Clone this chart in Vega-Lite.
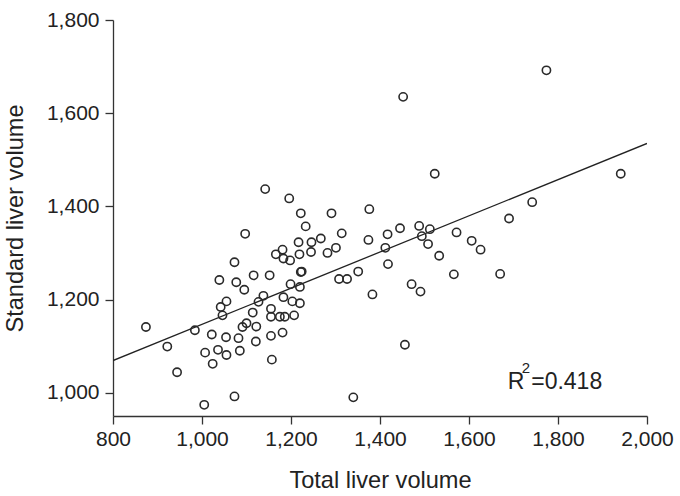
{
  "$schema": "https://vega.github.io/schema/vega-lite/v6.json",
  "autosize": {"type": "none"},
  "width": 534,
  "height": 396,
  "padding": {"left": 113, "top": 20, "right": 33, "bottom": 80},
  "background": "#ffffff",
  "datasets": {
    "livers": [
      {"tlv": 1142, "slv": 1437}, {"tlv": 1196, "slv": 1417}, {"tlv": 1222, "slv": 1385}, {"tlv": 1291, "slv": 1385},
      {"tlv": 1376, "slv": 1394}, {"tlv": 1452, "slv": 1635}, {"tlv": 1774, "slv": 1692}, {"tlv": 1523, "slv": 1470},
      {"tlv": 1941, "slv": 1470}, {"tlv": 1742, "slv": 1409}, {"tlv": 1690, "slv": 1374}, {"tlv": 1233, "slv": 1357},
      {"tlv": 1097, "slv": 1341}, {"tlv": 1314, "slv": 1342}, {"tlv": 1417, "slv": 1340}, {"tlv": 1217, "slv": 1323},
      {"tlv": 1246, "slv": 1323}, {"tlv": 1267, "slv": 1331}, {"tlv": 1374, "slv": 1328}, {"tlv": 1181, "slv": 1307},
      {"tlv": 1301, "slv": 1311}, {"tlv": 1412, "slv": 1311}, {"tlv": 1166, "slv": 1297}, {"tlv": 1219, "slv": 1297},
      {"tlv": 1245, "slv": 1302}, {"tlv": 1282, "slv": 1300}, {"tlv": 1183, "slv": 1288}, {"tlv": 1198, "slv": 1284},
      {"tlv": 1073, "slv": 1280}, {"tlv": 1418, "slv": 1276}, {"tlv": 1222, "slv": 1259}, {"tlv": 1224, "slv": 1260},
      {"tlv": 1351, "slv": 1260}, {"tlv": 1116, "slv": 1252}, {"tlv": 1152, "slv": 1252}, {"tlv": 1039, "slv": 1242},
      {"tlv": 1308, "slv": 1244}, {"tlv": 1326, "slv": 1244}, {"tlv": 1077, "slv": 1237}, {"tlv": 1199, "slv": 1233},
      {"tlv": 1220, "slv": 1227}, {"tlv": 1095, "slv": 1221}, {"tlv": 1383, "slv": 1211}, {"tlv": 1138, "slv": 1208},
      {"tlv": 1183, "slv": 1205}, {"tlv": 1055, "slv": 1196}, {"tlv": 1127, "slv": 1195}, {"tlv": 1203, "slv": 1196},
      {"tlv": 1220, "slv": 1192}, {"tlv": 1042, "slv": 1184}, {"tlv": 1155, "slv": 1180}, {"tlv": 1114, "slv": 1172},
      {"tlv": 1046, "slv": 1166}, {"tlv": 1155, "slv": 1163}, {"tlv": 1175, "slv": 1163}, {"tlv": 1186, "slv": 1163},
      {"tlv": 1207, "slv": 1166}, {"tlv": 1100, "slv": 1149}, {"tlv": 874, "slv": 1141}, {"tlv": 1091, "slv": 1141},
      {"tlv": 1122, "slv": 1142}, {"tlv": 984, "slv": 1134}, {"tlv": 1022, "slv": 1125}, {"tlv": 1181, "slv": 1129},
      {"tlv": 1054, "slv": 1119}, {"tlv": 1082, "slv": 1117}, {"tlv": 1155, "slv": 1122}, {"tlv": 1121, "slv": 1110},
      {"tlv": 922, "slv": 1099}, {"tlv": 1036, "slv": 1092}, {"tlv": 1085, "slv": 1090}, {"tlv": 1007, "slv": 1086},
      {"tlv": 1055, "slv": 1081}, {"tlv": 1024, "slv": 1062}, {"tlv": 1157, "slv": 1071}, {"tlv": 944, "slv": 1044},
      {"tlv": 1073, "slv": 992}, {"tlv": 1340, "slv": 990}, {"tlv": 1005, "slv": 974},
      {"tlv": 1445, "slv": 1353}, {"tlv": 1488, "slv": 1358}, {"tlv": 1512, "slv": 1351}, {"tlv": 1494, "slv": 1336},
      {"tlv": 1508, "slv": 1319}, {"tlv": 1572, "slv": 1344}, {"tlv": 1606, "slv": 1326}, {"tlv": 1626, "slv": 1307},
      {"tlv": 1533, "slv": 1294}, {"tlv": 1566, "slv": 1254}, {"tlv": 1670, "slv": 1255}, {"tlv": 1471, "slv": 1233},
      {"tlv": 1491, "slv": 1217}, {"tlv": 1456, "slv": 1103}
    ],
    "fit": [
      {"tlv": 800, "slv": 1069},
      {"tlv": 2000, "slv": 1535}
    ],
    "stat": [
      {"symbol": "R", "power": "2", "value": "=0.418"}
    ]
  },
  "layer": [
    {
      "data": {"name": "fit"},
      "mark": {"type": "line", "color": "#222222", "strokeWidth": 1.3, "clip": true},
      "encoding": {
        "x": {
          "field": "tlv", "type": "quantitative", "title": "Total liver volume",
          "scale": {"domain": [800, 2000], "nice": false, "zero": false},
          "axis": {"values": [800, 1000, 1200, 1400, 1600, 1800, 2000], "format": ",d", "labelPadding": 4, "titlePadding": 19, "labelFlush": false}
        },
        "y": {
          "field": "slv", "type": "quantitative", "title": "Standard liver volume",
          "scale": {"domain": [950, 1800], "nice": false, "zero": false},
          "axis": {"values": [1000, 1200, 1400, 1600, 1800], "format": ",d", "labelPadding": 6, "titlePadding": 19}
        }
      }
    },
    {
      "data": {"name": "livers"},
      "mark": {"type": "point", "shape": "circle", "filled": false, "size": 68, "stroke": "#2a2a2a", "strokeWidth": 1.6, "opacity": 1},
      "encoding": {
        "x": {"field": "tlv", "type": "quantitative"},
        "y": {"field": "slv", "type": "quantitative"}
      }
    },
    {
      "data": {"name": "stat"},
      "layer": [
        {
          "mark": {"type": "text", "align": "left", "baseline": "alphabetic", "font": "Liberation Sans", "fontSize": 23, "fill": "#222222"},
          "encoding": {"text": {"field": "symbol"}}
        },
        {
          "mark": {"type": "text", "align": "left", "baseline": "alphabetic", "font": "Liberation Sans", "fontSize": 15, "dx": 14, "dy": -16, "fill": "#222222"},
          "encoding": {"text": {"field": "power"}}
        },
        {
          "mark": {"type": "text", "align": "left", "baseline": "alphabetic", "font": "Liberation Sans", "fontSize": 23, "dx": 23.5, "fill": "#222222"},
          "encoding": {"text": {"field": "value"}}
        }
      ],
      "encoding": {
        "x": {"datum": 1687, "type": "quantitative"},
        "y": {"datum": 1008, "type": "quantitative"}
      }
    }
  ],
  "config": {
    "view": {"stroke": null},
    "axis": {
      "grid": false,
      "domainColor": "#333333", "domainWidth": 1.3,
      "tickColor": "#333333", "tickWidth": 1.3, "tickSize": 8,
      "labelColor": "#222222", "titleColor": "#222222",
      "labelFont": "Liberation Sans", "titleFont": "Liberation Sans",
      "labelFontSize": 21, "titleFontSize": 23.6, "titleFontWeight": "normal"
    }
  }
}
